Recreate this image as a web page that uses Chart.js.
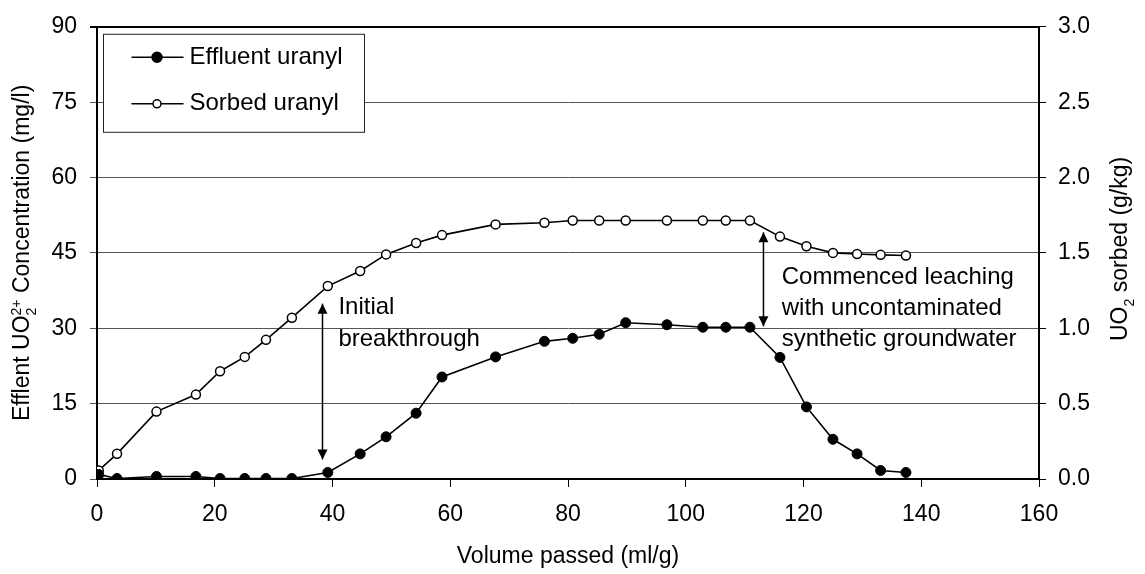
<!DOCTYPE html>
<html>
<head>
<meta charset="utf-8">
<script src="https://cdn.jsdelivr.net/npm/chart.js@4.4.0/dist/chart.umd.min.js"></script>
<style>
  body { margin: 0; background: #fff; }
  #wrap { width: 1145px; height: 574px; }
</style>
</head>
<body>
<div id="wrap"><canvas id="graph"></canvas></div>
<script>
const volume = [0.3, 3.4, 10.1, 16.8, 20.9, 25.1, 28.7, 33.1, 39.2, 44.7, 49.1, 54.2, 58.6, 67.7,
  76.0, 80.8, 85.3, 89.8, 96.8, 102.9, 106.8, 110.9, 116.0, 120.5, 125.0, 129.1, 133.1, 137.4];
const effluent = [0.9, 0.1, 0.5, 0.5, 0.1, 0.1, 0.1, 0.1, 1.3, 5.0, 8.4, 13.1, 20.3, 24.3,
  27.4, 28.0, 28.8, 31.1, 30.7, 30.2, 30.2, 30.2, 24.2, 14.35, 7.9, 5.0, 1.7, 1.3];
const sorbed = [0.057, 0.167, 0.447, 0.56, 0.715, 0.81, 0.923, 1.07, 1.28, 1.38, 1.49, 1.566, 1.618, 1.689,
  1.70, 1.715, 1.715, 1.715, 1.715, 1.715, 1.715, 1.715, 1.608, 1.544, 1.50, 1.493, 1.487, 1.483];
const xTicks = [0, 20, 40, 60, 80, 100, 120, 140, 160];
const yTicks = [0, 15, 30, 45, 60, 75, 90];
const y1Ticks = [0, 0.5, 1.0, 1.5, 2.0, 2.5, 3.0];
const seriesNames = ["Effluent uranyl", "Sorbed uranyl"];

const FONT = "Liberation Sans, Arial, sans-serif";
const SIZE = 23;
const NOTE = 24;

function pts(ys) {
  return volume.map((v, i) => ({ x: v, y: ys[i] }));
}

function setTicks(list) {
  return s => { s.ticks = list.map(v => ({ value: v })); };
}

// text built from pieces: [text] normal, or ["", sub, sup] stacked small digits
function richText(ctx, parts, x, y) {
  const small = Math.round(SIZE * 0.62);
  let total = 0;
  const widths = parts.map(p => {
    ctx.font = (p.length > 1 ? small : SIZE) + "px " + FONT;
    const w = p.length > 1 ? Math.max(...p.slice(1).map(t => ctx.measureText(t).width)) : ctx.measureText(p[0]).width;
    total += w;
    return w;
  });
  let cx = x - total / 2;
  parts.forEach((p, i) => {
    if (p.length > 1) {
      ctx.font = small + "px " + FONT;
      ctx.fillText(p[1], cx, y + 7);
      if (p[2]) ctx.fillText(p[2], cx, y - 8);
    } else {
      ctx.font = SIZE + "px " + FONT;
      ctx.fillText(p[0], cx, y);
    }
    cx += widths[i];
  });
}

function arrow(ctx, x, y0, y1) {
  ctx.beginPath();
  ctx.moveTo(x, y0);
  ctx.lineTo(x, y1);
  ctx.stroke();
  [y0, y1].forEach((yy, k) => {
    const d = k === 0 ? (y1 > y0 ? 1 : -1) : (y1 > y0 ? -1 : 1);
    ctx.beginPath();
    ctx.moveTo(x, yy);
    ctx.lineTo(x - 5, yy + d * 10);
    ctx.lineTo(x + 5, yy + d * 10);
    ctx.closePath();
    ctx.fill();
  });
}

const extras = {
  id: "extras",
  afterDatasetsDraw(chart) {
    const ctx = chart.ctx;
    const sx = chart.scales.x, sy = chart.scales.y;
    const area = chart.chartArea;
    ctx.save();
    ctx.fillStyle = "#000";
    ctx.strokeStyle = "#000";
    ctx.lineWidth = 1.5;

    // arrows
    arrow(ctx, sx.getPixelForValue(38.3), sy.getPixelForValue(34.9), sy.getPixelForValue(3.9));
    arrow(ctx, sx.getPixelForValue(113.2), sy.getPixelForValue(49.1), sy.getPixelForValue(30.4));

    // annotations
    ctx.font = NOTE + "px " + FONT;
    ctx.textAlign = "left";
    ctx.textBaseline = "middle";
    ctx.fillText("Initial", sx.getPixelForValue(41), sy.getPixelForValue(34.2));
    ctx.fillText("breakthrough", sx.getPixelForValue(41), sy.getPixelForValue(27.7));
    ctx.fillText("Commenced leaching", sx.getPixelForValue(116.3), sy.getPixelForValue(40.2));
    ctx.fillText("with uncontaminated", sx.getPixelForValue(116.3), sy.getPixelForValue(33.9));
    ctx.fillText("synthetic groundwater", sx.getPixelForValue(116.3), sy.getPixelForValue(27.8));

    // legend
    const lx = area.left + 6.5, ly = area.top + 7.5;
    ctx.fillStyle = "#fff";
    ctx.fillRect(lx, ly, 261, 98);
    ctx.lineWidth = 1;
    ctx.strokeStyle = "#222";
    ctx.strokeRect(lx, ly, 261, 98);
    chart.data.datasets.forEach((ds, i) => {
      const yy = ly + 23 + i * 46.5;
      ctx.strokeStyle = "#000";
      ctx.lineWidth = 1.5;
      ctx.beginPath();
      ctx.moveTo(lx + 28, yy);
      ctx.lineTo(lx + 80, yy);
      ctx.stroke();
      ctx.beginPath();
      ctx.arc(lx + 53.5, yy, i === 0 ? 5 : 4, 0, Math.PI * 2);
      ctx.fillStyle = ds.pointBackgroundColor;
      ctx.fill();
      ctx.stroke();
      ctx.fillStyle = "#000";
      ctx.font = NOTE + "px " + FONT;
      ctx.fillText(ds.label, lx + 86, yy);
    });

    // axis titles
    ctx.textBaseline = "alphabetic";
    ctx.font = SIZE + "px " + FONT;
    ctx.textAlign = "center";
    ctx.fillText("Volume passed (ml/g)", (area.left + area.right) / 2, 563);
    ctx.textAlign = "left";

    ctx.save();
    ctx.translate(29, (area.top + area.bottom) / 2);
    ctx.rotate(-Math.PI / 2);
    richText(ctx, [["Efflent UO"], ["", "2", "2+"], [" Concentration (mg/l)"]], 0, 0);
    ctx.restore();

    ctx.save();
    ctx.translate(1127, (area.top + area.bottom) / 2 - 4);
    ctx.rotate(-Math.PI / 2);
    richText(ctx, [["UO"], ["", "2"], [" sorbed (g/kg)"]], 0, 0);
    ctx.restore();

    ctx.restore();
  }
};

const tickFont = { family: FONT, size: SIZE };

new Chart(document.getElementById("graph"), {
  type: "scatter",
  data: {
    datasets: [
      {
        label: seriesNames[0],
        data: pts(effluent),
        yAxisID: "y",
        showLine: true,
        borderColor: "#000",
        borderWidth: 1.6,
        pointRadius: 5,
        pointBackgroundColor: "#000",
        pointBorderColor: "#000",
        pointBorderWidth: 1
      },
      {
        label: seriesNames[1],
        data: pts(sorbed),
        yAxisID: "y1",
        showLine: true,
        borderColor: "#000",
        borderWidth: 1.6,
        pointRadius: 4.5,
        pointBackgroundColor: "#fff",
        pointBorderColor: "#000",
        pointBorderWidth: 1.5
      }
    ]
  },
  options: {
    responsive: true,
    maintainAspectRatio: false,
    animation: false,
    devicePixelRatio: 1,
    layout: { padding: { top: 23, left: 0, right: 0, bottom: 0 } },
    plugins: { legend: { display: false }, tooltip: { enabled: false } },
    scales: {
      x: {
        type: "linear",
        min: 0,
        max: 160,
        afterBuildTicks: setTicks(xTicks),
        afterFit: s => { s.height = 95; },
        grid: { drawOnChartArea: false, tickLength: 8, color: "#000" },
        border: { color: "#000", width: 2 },
        ticks: { font: tickFont, color: "#000", padding: 14, maxRotation: 0 }
      },
      y: {
        position: "left",
        min: 0,
        max: 90,
        afterBuildTicks: setTicks(yTicks),
        afterFit: s => { s.width = 97; },
        grid: {
          tickLength: 7,
          color: c => (c.tick && c.tick.value === 90 ? "#000" : "#555"),
          lineWidth: c => (c.tick && c.tick.value === 90 ? 2 : 1)
        },
        border: { color: "#000", width: 2 },
        ticks: { font: tickFont, color: "#000", padding: 13 }
      },
      y1: {
        position: "right",
        min: 0,
        max: 3,
        afterBuildTicks: setTicks(y1Ticks),
        afterFit: s => { s.width = 106; },
        grid: { drawOnChartArea: false, tickLength: 7, color: "#000" },
        border: { color: "#000", width: 2 },
        ticks: { font: tickFont, color: "#000", padding: 12, callback: v => v.toFixed(1) }
      }
    }
  },
  plugins: [extras]
});
</script>
</body>
</html>
